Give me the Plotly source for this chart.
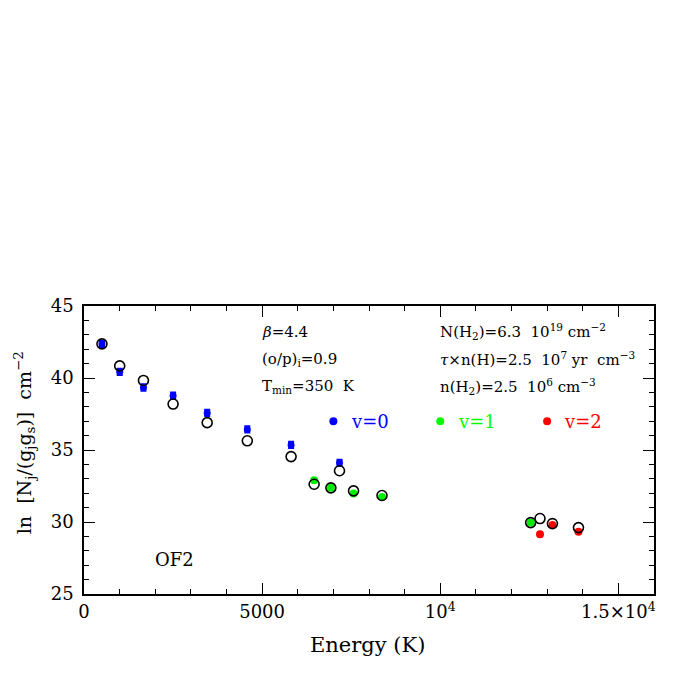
import plotly.graph_objects as go

# Observed v=0 (blue)
e_v0 = [504, 1002, 1669, 2501, 3458, 4584, 5813, 7172]
obs_v0 = [42.37, 40.43, 39.34, 38.77, 37.57, 36.43, 35.35, 34.11]
err_v0 = [0.2, 0.2, 0.2, 0.2, 0.2, 0.2, 0.2, 0.2]

# Observed v=1 (green)
e_v1 = [6460, 6930, 7566, 8365, 12538]
obs_v1 = [32.90, 32.37, 31.98, 31.73, 29.96]

# Observed v=2 (red)
e_v2 = [12800, 13149, 13880]
obs_v2 = [29.15, 29.79, 29.33]

# Model (open black circles)
e_mod = [504, 1002, 1669, 2501, 3458, 4584, 5813, 7172,
         6460, 6930, 7566, 8365, 12538, 12800, 13149, 13880]
mod = [42.37, 40.84, 39.83, 38.19, 36.90, 35.64, 34.54, 33.56,
       32.62, 32.37, 32.16, 31.84, 29.96, 30.24, 29.89, 29.61]

# Legend positions
leg_x = [7000, 10000, 13000]
leg_y = [37.0, 37.0, 37.0]
leg_labels = ["v=0", "v=1", "v=2"]
leg_colors = ["#0000ff", "#00ff00", "#ff0000"]

x_tickvals = [0, 5000, 10000, 15000]
x_ticktext = ["0", "5000", "10<sup>4</sup>", "1.5×10<sup>4</sup>"]
y_tickvals = [25, 30, 35, 40, 45]

FONT = "DejaVu Serif"

fig = go.Figure()

fig.add_trace(go.Scatter(
    x=e_v0, y=obs_v0, mode="markers",
    marker=dict(color="#0000ff", size=7, symbol="circle"),
    error_y=dict(type="data", array=err_v0, color="#0000ff", thickness=2.5, width=3),
    showlegend=False))
fig.add_trace(go.Scatter(
    x=e_v1, y=obs_v1, mode="markers",
    marker=dict(color="#00ee00", size=8), showlegend=False))
fig.add_trace(go.Scatter(
    x=e_v2, y=obs_v2, mode="markers",
    marker=dict(color="#ff0000", size=8), showlegend=False))
fig.add_trace(go.Scatter(
    x=e_mod, y=mod, mode="markers",
    marker=dict(symbol="circle-open", color="black", size=10, line=dict(width=1.6)),
    showlegend=False))

# legend dots
fig.add_trace(go.Scatter(
    x=leg_x, y=leg_y, mode="markers",
    marker=dict(color=leg_colors, size=8), showlegend=False))
for lx, ly, lt, lc in zip(leg_x, leg_y, leg_labels, leg_colors):
    fig.add_annotation(x=lx + 430, y=ly, text=lt, showarrow=False,
                       xanchor="left", yanchor="middle",
                       font=dict(family=FONT, size=18, color=lc))

texts_left = ["<i>β</i>=4.4", "(o/p)<sub>i</sub>=0.9", "T<sub>min</sub>=350  K"]
texts_right = ["N(H<sub>2</sub>)=6.3  10<sup>19</sup> cm<sup>−2</sup>",
               "<i>τ</i>×n(H)=2.5  10<sup>7</sup> yr  cm<sup>−3</sup>",
               "n(H<sub>2</sub>)=2.5  10<sup>6</sup> cm<sup>−3</sup>"]
text_y = [43.2, 41.3, 39.4]
for t, yy in zip(texts_left, text_y):
    fig.add_annotation(x=4930, y=yy, text=t, showarrow=False, xanchor="left",
                       yanchor="middle", font=dict(family=FONT, size=15, color="black"))
for t, yy in zip(texts_right, text_y):
    fig.add_annotation(x=9930, y=yy, text=t, showarrow=False, xanchor="left",
                       yanchor="middle", font=dict(family=FONT, size=15, color="black"))
fig.add_annotation(x=1950, y=27.4, text="OF2", showarrow=False, xanchor="left",
                   yanchor="middle", font=dict(family=FONT, size=18, color="black"))

# axis titles as annotations for precise placement
fig.add_annotation(xref="paper", yref="paper", x=0.4965, y=-0.177,
                   text="Energy (K)", showarrow=False, xanchor="center", yanchor="middle",
                   font=dict(family=FONT, size=21, color="black"))
fig.add_annotation(xref="paper", yref="paper", x=-0.105, y=0.524,
                   text="ln  [N<sub>j</sub>/(g<sub>j</sub>g<sub>s</sub>)]  cm<sup>−2</sup>",
                   textangle=-90, showarrow=False, xanchor="center", yanchor="middle",
                   font=dict(family=FONT, size=19, color="black"))

axis_common = dict(showline=True, mirror="allticks", linecolor="black", linewidth=1.5,
                   ticks="inside", ticklen=11, tickwidth=1.2, tickcolor="black",
                   showgrid=False, zeroline=False,
                   tickfont=dict(family=FONT, size=18, color="black"))

fig.update_xaxes(range=[0, 16000], tickvals=x_tickvals, ticktext=x_ticktext,
                 minor=dict(ticks="inside", ticklen=5, dtick=1000, tick0=0,
                            tickcolor="black", tickwidth=1.2, showgrid=False),
                 ticklabelstandoff=1,
                 **axis_common)
fig.update_yaxes(range=[25, 45], tickvals=y_tickvals,
                 minor=dict(ticks="inside", ticklen=5, dtick=1, tick0=25,
                            tickcolor="black", tickwidth=1.2, showgrid=False),
                 ticklabelstandoff=5,
                 **axis_common)

fig.update_layout(width=662, height=662, plot_bgcolor="white", paper_bgcolor="white",
                  margin=dict(l=76, r=16, t=298, b=76, autoexpand=False))

fig.write_html("out.html")
